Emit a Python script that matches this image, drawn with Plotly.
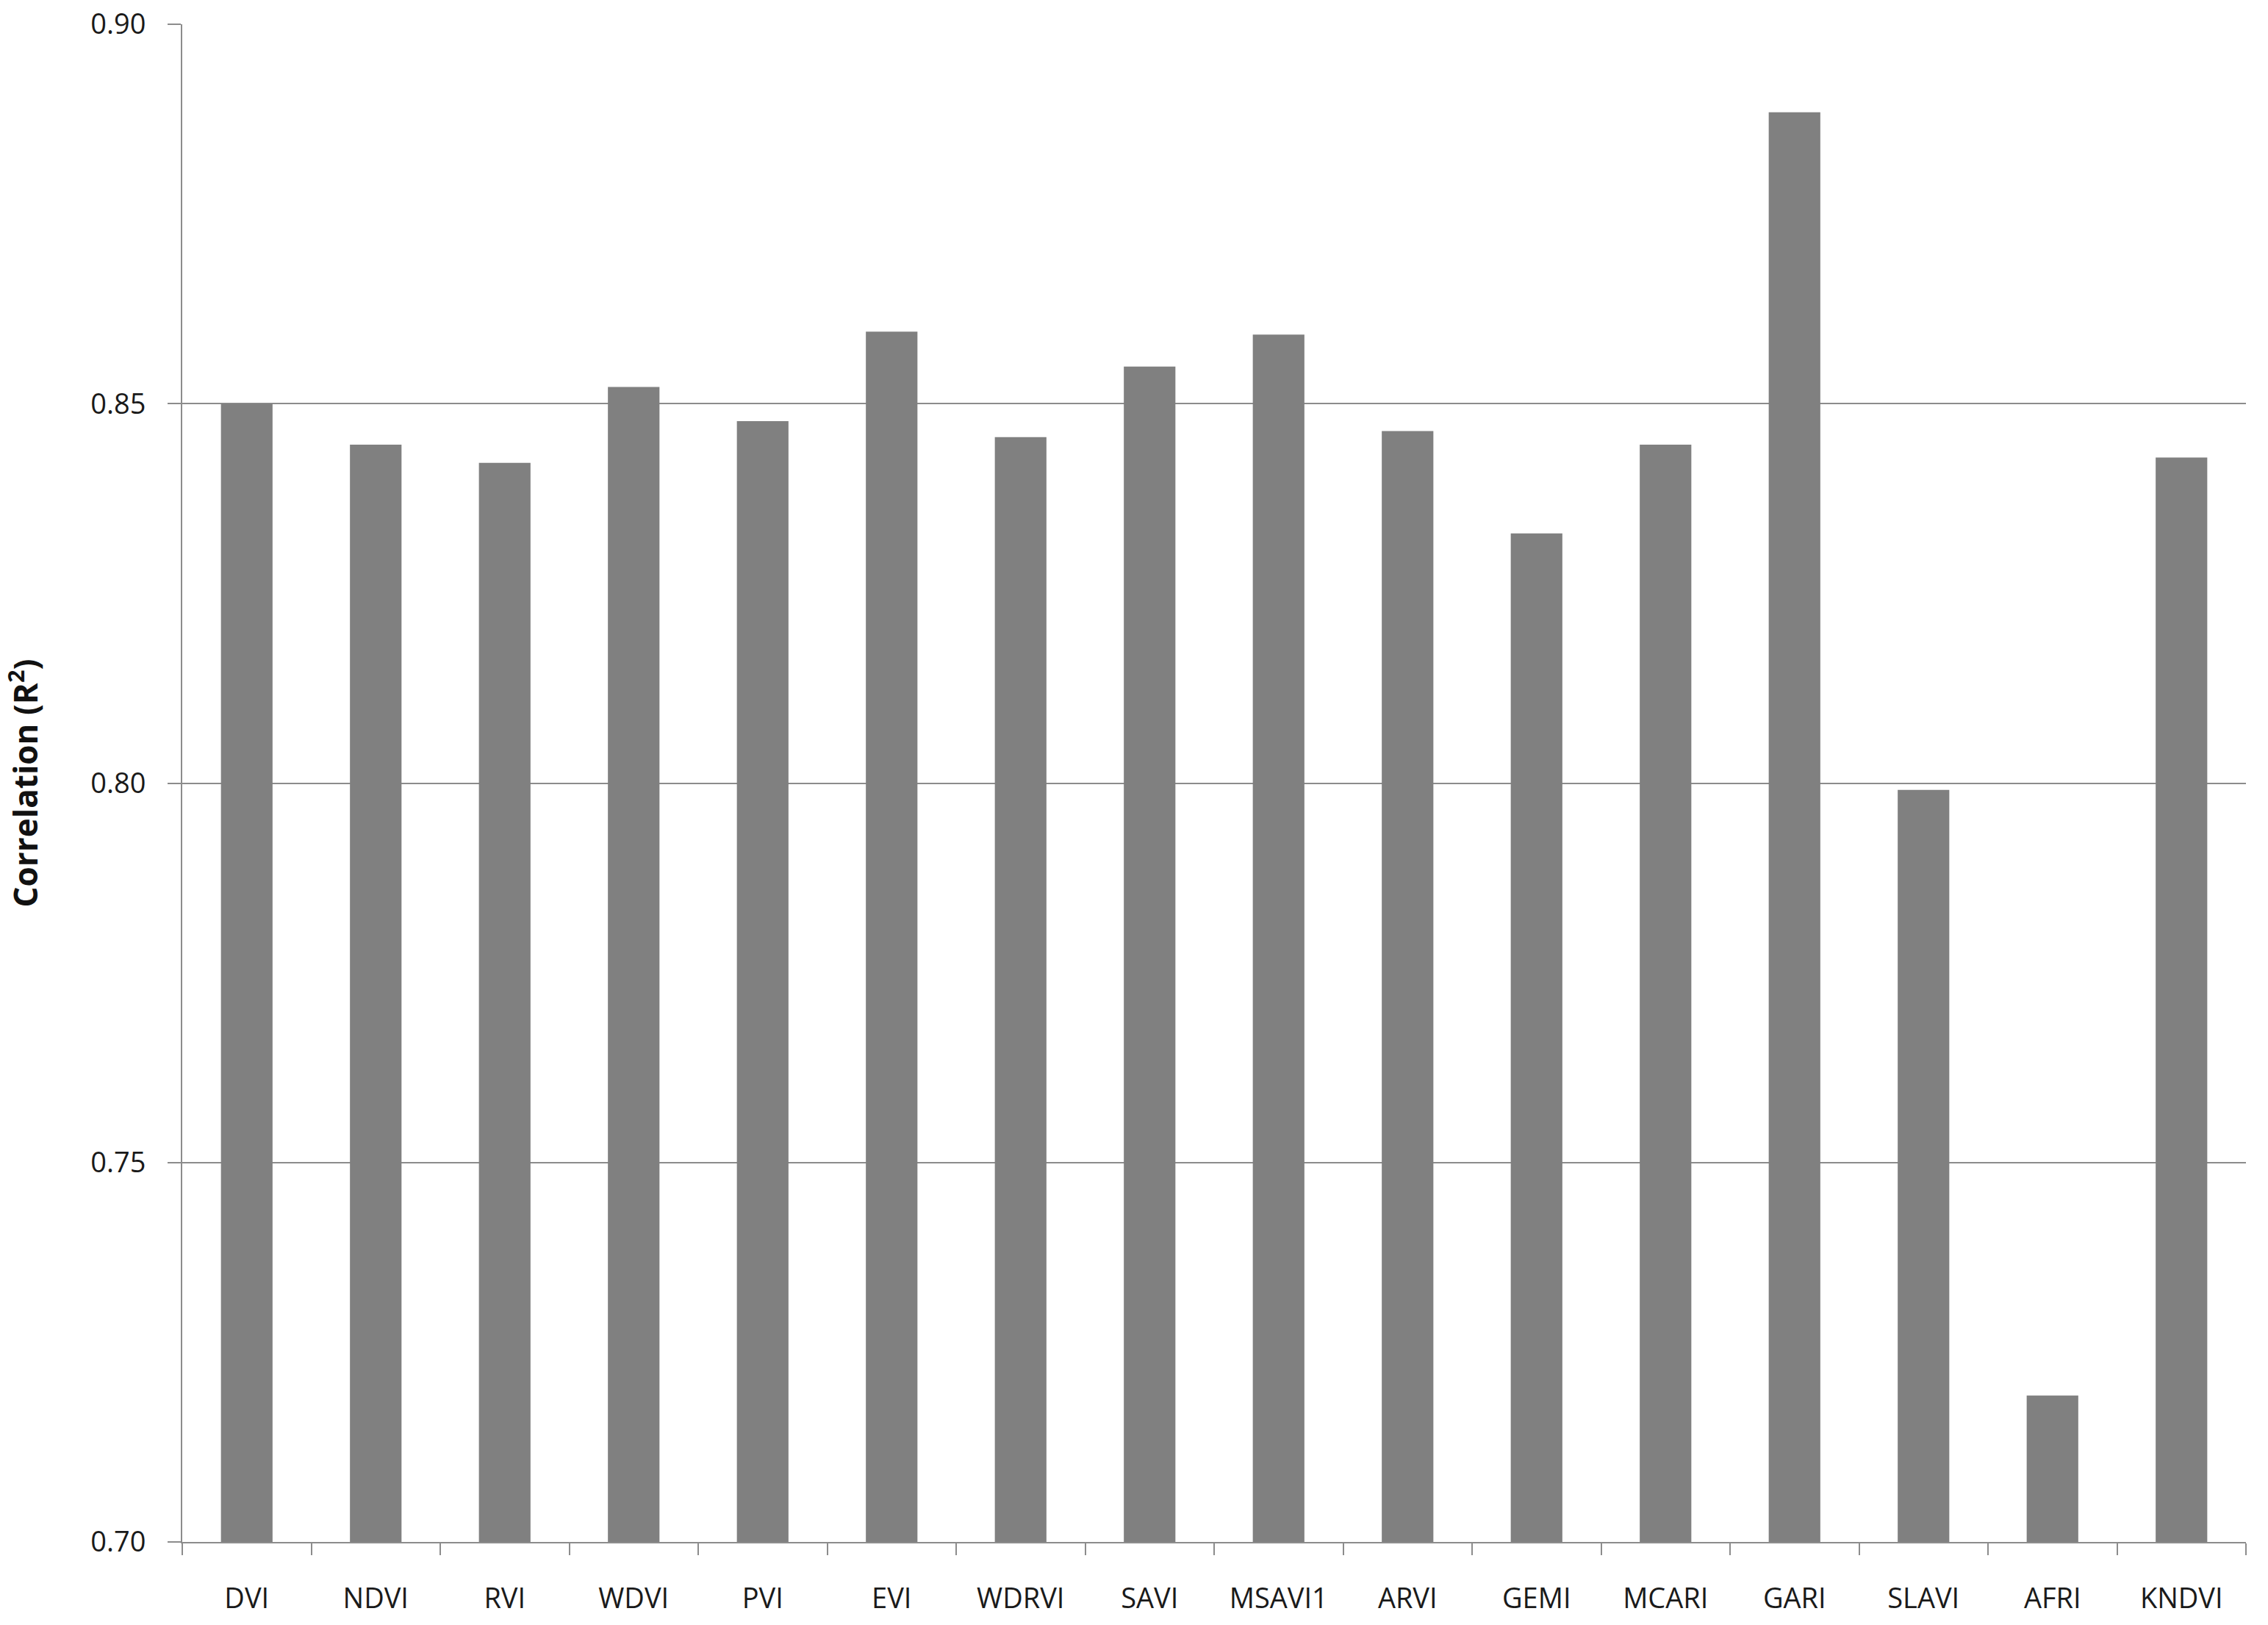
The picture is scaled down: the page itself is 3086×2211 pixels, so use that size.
import plotly.graph_objects as go

categories = ["DVI", "NDVI", "RVI", "WDVI", "PVI", "EVI", "WDRVI", "SAVI",
              "MSAVI1", "ARVI", "GEMI", "MCARI", "GARI", "SLAVI", "AFRI", "KNDVI"]
r2_values = [0.850, 0.8446, 0.8422, 0.8522, 0.8477, 0.8595, 0.8456, 0.8549,
             0.8591, 0.8464, 0.8329, 0.8446, 0.8884, 0.7991, 0.7193, 0.8429]
y_tick_vals = [0.70, 0.75, 0.80, 0.85, 0.90]
y_tick_text = ["0.70", "0.75", "0.80", "0.85", "0.90"]

FONT = "Open Sans, Noto Sans, sans-serif"

fig = go.Figure(go.Bar(
    x=categories,
    y=r2_values,
    marker=dict(color="#808080", line=dict(width=0)),
    base=0,
))

fig.update_layout(
    width=3086, height=2211,
    margin=dict(l=248, r=30, t=33, b=113, autoexpand=False),
    paper_bgcolor="white", plot_bgcolor="white",
    bargap=0.6,
    showlegend=False,
    font=dict(family=FONT, size=38, color="#1a1a1a"),
)

fig.update_xaxes(
    type="category",
    showline=True, linecolor="#8c8c8c", linewidth=2,
    ticks="outside", tickson="boundaries", ticklen=16, tickwidth=2, tickcolor="#8c8c8c",
    showgrid=False,
    tickfont=dict(family=FONT, size=38, color="#1a1a1a"),
    ticklabelstandoff=42,
    automargin=False,
)

fig.update_yaxes(
    range=[0.70, 0.90],
    tickvals=y_tick_vals, ticktext=y_tick_text,
    showline=True, linecolor="#8c8c8c", linewidth=2,
    ticks="outside", ticklen=18, tickwidth=2, tickcolor="#8c8c8c",
    showgrid=True, gridcolor="#8c8c8c", gridwidth=2,
    zeroline=False,
    tickfont=dict(family=FONT, size=38, color="#1a1a1a"),
    ticklabelstandoff=22,
    title=dict(text="<b>Correlation (R<sup>2</sup>)</b>",
               font=dict(family=FONT, size=44, color="#111111"),
               standoff=76),
    automargin=False,
)

fig.write_html(
    "out.html",
    config={"displayModeBar": False},
    post_script="document.body.style.margin='0';document.body.style.overflow='hidden';",
)
